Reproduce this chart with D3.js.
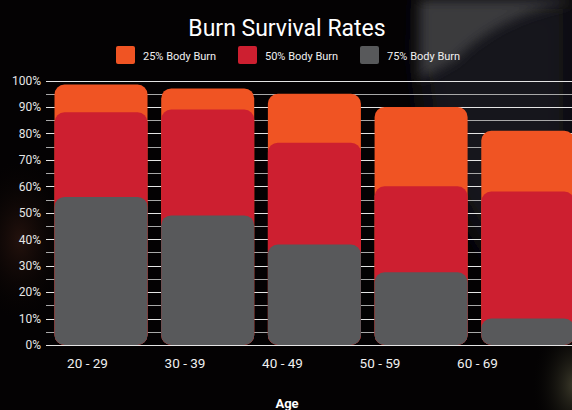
<!DOCTYPE html>
<html><head><meta charset="utf-8">
<script src="https://cdn.jsdelivr.net/npm/d3@7"></script>
<style>
html,body{margin:0;padding:0;background:#000;}
svg{display:block;}
</style></head>
<body>
<svg id="chart" width="572" height="410"></svg>
<script>
const categories = ["20 - 29", "30 - 39", "40 - 49", "50 - 59", "60 - 69"];
const seriesNames = ["25% Body Burn", "50% Body Burn", "75% Body Burn"];
const burn25 = [98.5, 97, 95, 90, 81];
const burn50 = [88, 89, 76.5, 60, 58];
const burn75 = [56, 49, 38, 27.5, 10];
const colors = ["#F05423", "#CD1F30", "#58595B"];
const yTickValues = [0,10,20,30,40,50,60,70,80,90,100];
const gridValues = d3.range(0, 101, 5);
const title = "Burn Survival Rates";
const xTitle = "Age";

const W = 572, H = 410;
const svg = d3.select("#chart");
const defs = svg.append("defs");

// background photo approximation
const blur = defs.append("filter").attr("id","blur").attr("x","-50%").attr("y","-50%").attr("width","200%").attr("height","200%");
blur.append("feGaussianBlur").attr("stdDeviation",6);
const blur2 = defs.append("filter").attr("id","blur2").attr("x","-50%").attr("y","-50%").attr("width","200%").attr("height","200%");
blur2.append("feGaussianBlur").attr("stdDeviation",14);
const bgL = defs.append("radialGradient").attr("id","bgL").attr("cx","0.5").attr("cy","0.5").attr("r","0.5");
bgL.append("stop").attr("offset","0%").attr("stop-color","#24120d");
bgL.append("stop").attr("offset","100%").attr("stop-color","#000").attr("stop-opacity",0);
const bgB = defs.append("radialGradient").attr("id","bgB").attr("cx","0.5").attr("cy","0.5").attr("r","0.5");
bgB.append("stop").attr("offset","0%").attr("stop-color","#3e3c2c");
bgB.append("stop").attr("offset","100%").attr("stop-color","#000").attr("stop-opacity",0);

svg.append("rect").attr("width",W).attr("height",H).attr("fill","#040203");
// top-right dark jacket region
svg.append("path").attr("d","M420,0 L572,0 L572,330 L520,300 L470,220 L430,150 L418,60 Z")
  .attr("fill","#15161b").attr("filter","url(#blur2)");
// lighter wedge
svg.append("path").attr("d","M420,0 L572,0 L572,2 C530,10 490,25 455,60 L420,80 Z")
  .attr("fill","#3a3a3c").attr("filter","url(#blur)");
svg.append("ellipse").attr("cx",20).attr("cy",240).attr("rx",55).attr("ry",90).attr("fill","url(#bgL)");
svg.append("ellipse").attr("cx",575).attr("cy",385).attr("rx",45).attr("ry",70).attr("fill","url(#bgB)");

const y = d3.scaleLinear().domain([0,100]).range([345, 80.5]);
const x = d3.scaleBand().domain(categories).range([54.5, 574.3]).paddingInner(0.128).paddingOuter(0);
const xLab = d3.scalePoint().domain(categories).range([87, 477]);

// gridlines
svg.append("g").selectAll("line").data(gridValues).join("line")
  .attr("x1",46).attr("x2",W)
  .attr("y1",d=>Math.round(y(d))+0.5).attr("y2",d=>Math.round(y(d))+0.5)
  .attr("stroke",d=>d%10===0?"#e4e4e4":"#a8a8a8").attr("stroke-width",1);

// y axis labels
const yAxis = d3.axisLeft(y).tickValues(yTickValues).tickFormat(d=>d+"%").tickSize(0).tickPadding(0);
const yg = svg.append("g").attr("transform","translate(41,0)").call(yAxis);
yg.select(".domain").remove();
yg.selectAll("text").attr("fill","#e6e6e6").style("font-family","Roboto, sans-serif").style("font-size","12px");

// bars (overlapping, each from 0)
const series = [burn25, burn50, burn75];
series.forEach((vals, si) => {
  svg.append("g").selectAll("rect").data(categories.map((c,i)=>({c, v: vals[i]}))).join("rect")
    .attr("x", d=>x(d.c)).attr("width", x.bandwidth())
    .attr("y", d=>y(d.v)).attr("height", d=>y(0)-y(d.v))
    .attr("rx", 10).attr("ry", 10)
    .attr("fill", colors[si]);
});

// x axis labels
const xAxis = d3.axisBottom(xLab).tickSize(0).tickPadding(0);
const xg = svg.append("g").attr("transform","translate(0,358)").call(xAxis);
xg.select(".domain").remove();
xg.selectAll("text").attr("fill","#f0f0f0").style("font-family","Roboto, sans-serif").style("font-size","13.5px");

// x title
svg.append("text").attr("x",287).attr("y",408).attr("text-anchor","middle")
  .attr("fill","#fff").style("font-family","Roboto, sans-serif").style("font-size","13px").style("font-weight","bold")
  .text(xTitle);

// title
svg.append("text").attr("x",287).attr("y",36).attr("text-anchor","middle")
  .attr("fill","#fff").style("font-family","Roboto, sans-serif").style("font-size","23px")
  .text(title);

// legend
const legX = [116, 238, 360];
const lg = svg.append("g");
seriesNames.forEach((n,i)=>{
  lg.append("rect").attr("x",legX[i]).attr("y",46).attr("width",19).attr("height",18).attr("rx",2).attr("fill",colors[i]);
  lg.append("text").attr("x",legX[i]+27).attr("y",59.5).attr("fill","#f0f0f0")
    .style("font-family","Roboto, sans-serif").style("font-size","11px").text(n);
});
</script>
</body></html>
